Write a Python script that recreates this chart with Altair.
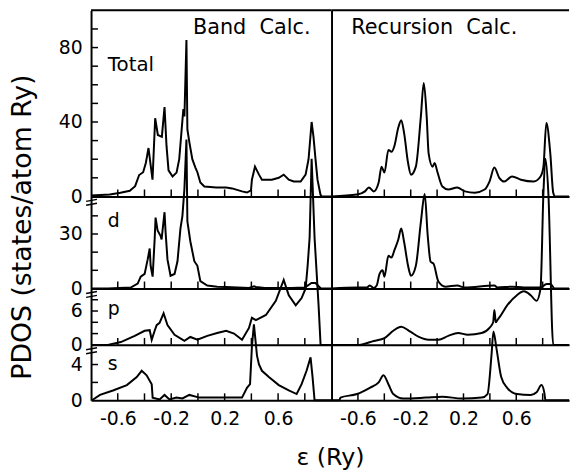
import altair as alt
import pandas as pd

FONT = "DejaVu Sans"

# ---------------- data (energy in Ry, PDOS in states/atom Ry) ----------------
band_total_e = [-0.80, -0.66, -0.58, -0.51, -0.47, -0.44, -0.41, -0.39, -0.37, -0.34, -0.32, -0.30, -0.27, -0.265,
                -0.25, -0.235, -0.22, -0.19, -0.16, -0.14, -0.116, -0.109, -0.101, -0.086, -0.079, -0.064, -0.042,
                -0.019, -0.004, 0.018, 0.048, 0.137, 0.211, 0.256, 0.33, 0.367, 0.397, 0.404, 0.427, 0.457, 0.479,
                0.553, 0.605, 0.642, 0.68, 0.717, 0.769, 0.806, 0.828, 0.851, 0.865, 0.88, 0.895, 0.917, 0.926, 1.0]
band_total_v = [0.5, 1.0, 2.0, 3.0, 5.5, 11.5, 13, 18, 26, 9, 42, 33, 32, 36, 48, 27, 14, 10.7, 12.8, 20, 41, 47, 43,
                84, 36, 29, 20, 15.5, 13, 7.5, 5.3, 4.8, 4.8, 4.3, 2.7, 2.1, 3.2, 9, 16, 11.7, 9, 9, 10, 11.7, 9, 8, 8,
                11.7, 20, 40, 32, 20, 9, 1, 0, 0]

band_d_e = [-0.80, -0.674, -0.503, -0.451, -0.428, -0.399, -0.376, -0.361, -0.354, -0.339, -0.324, -0.317, -0.302,
            -0.28, -0.272, -0.25, -0.242, -0.228, -0.205, -0.175, -0.153, -0.131, -0.116, -0.101, -0.086, -0.079,
            -0.057, -0.027, -0.004, 0.018, 0.07, 0.144, 0.211, 0.382, 0.42, 0.434, 0.5, 0.7, 0.8, 0.85, 0.88, 0.92, 1.0]
band_d_v = [0, 0, 0.5, 2.7, 6.5, 8, 16, 22, 12.5, 6.5, 27, 39, 32, 29, 27, 42, 31, 16, 7, 8, 15, 33, 40, 55, 82, 37,
            26, 15, 12.5, 4, 1.6, 1.0, 0.8, 0.3, 1.2, 0.8, 0.3, 0.2, 0.5, 3, 3, 0, 0]

band_p_e = [-0.80, -0.674, -0.577, -0.473, -0.399, -0.361, -0.346, -0.324, -0.309, -0.287, -0.257, -0.228, -0.175,
            -0.101, -0.057, -0.004, 0.07, 0.144, 0.211, 0.27, 0.33, 0.382, 0.404, 0.434, 0.509, 0.583, 0.642, 0.68,
            0.732, 0.776, 0.806, 0.821, 0.836, 0.851, 0.873, 0.903, 0.918, 1.0]
band_p_v = [0, 0, 0.5, 1.6, 2.5, 2.6, 0.9, 2.5, 3.5, 3.9, 5.6, 3.5, 1.8, 0.7, 1.4, 0.9, 1.6, 2.1, 2.5, 2.0, 0.9, 3.0,
            4.8, 4.4, 5.3, 7.8, 11.5, 8.8, 7.0, 8.3, 10, 14, 19, 33, 19, 7, 0, 0]

band_s_e = [-0.793, -0.733, -0.636, -0.532, -0.458, -0.421, -0.384, -0.346, -0.339, -0.287, -0.25, -0.213, -0.161,
            -0.116, -0.064, 0.01, 0.256, 0.33, 0.367, 0.39, 0.404, 0.419, 0.442, 0.457, 0.479, 0.531, 0.605, 0.68,
            0.739, 0.776, 0.813, 0.843, 0.858, 0.873, 1.0]
band_s_v = [0, 0.6, 1.1, 1.7, 2.6, 3.3, 2.8, 1.8, 0.3, 0.1, 0.6, 0.1, 0.3, 0.2, 0.6, 0.3, 0.3, 0.3, 1.4, 1.8, 6, 8.5,
            5, 4, 3.3, 2.6, 1.7, 1.1, 0.7, 1.8, 3.3, 4.8, 2.6, 0, 0]

rec_total_e = [-0.80, -0.607, -0.547, -0.517, -0.48, -0.443, -0.421, -0.399, -0.369, -0.346, -0.324, -0.294, -0.272,
               -0.25, -0.22, -0.198, -0.161, -0.123, -0.101, -0.079, -0.064, -0.034, -0.019, 0.003, 0.04, 0.085,
               0.152, 0.211, 0.286, 0.36, 0.397, 0.434, 0.471, 0.509, 0.568, 0.635, 0.732, 0.784, 0.806, 0.828,
               0.858, 0.88, 0.895, 1.0]
rec_total_v = [0, 1, 2.7, 4.8, 2.7, 7.5, 16, 12.8, 25, 24, 27, 37, 41, 34, 18, 11.7, 16, 43, 61, 43, 23, 16, 18, 13,
               5.3, 3.7, 4.8, 2.7, 2.0, 3.7, 8, 15.5, 10, 8, 10.7, 9, 8, 10.7, 16, 39.5, 23, 2, 0, 0]

rec_d_e = [-0.80, -0.607, -0.532, -0.51, -0.48, -0.458, -0.436, -0.413, -0.399, -0.369, -0.346, -0.324, -0.294,
           -0.272, -0.25, -0.22, -0.198, -0.161, -0.123, -0.094, -0.071, -0.049, -0.027, 0.01, 0.062, 0.152, 0.211,
           0.434, 0.457, 0.568, 0.657, 0.784, 0.83, 0.86, 0.89, 1.0]
rec_d_v = [0, 0.5, 0.5, 1.6, 0.2, 1.6, 8, 10, 6.5, 18, 17, 21, 27, 33, 25.6, 12.5, 7, 12.5, 36.5, 52, 29, 14.7, 13.6,
           3.8, 1.0, 1.6, 0.5, 1.6, 0.5, 1.0, 0.5, 0.5, 2.5, 2.5, 0, 0]

rec_p_e = [-0.80, -0.592, -0.48, -0.399, -0.332, -0.272, -0.213, -0.138, -0.064, 0.01, 0.085, 0.159, 0.233, 0.338,
           0.397, 0.425, 0.434, 0.445, 0.46, 0.479, 0.531, 0.605, 0.657, 0.709, 0.754, 0.784, 0.806, 0.821, 0.843,
           0.88, 1.0]
rec_p_v = [0, 0, 0.7, 1.2, 2.5, 3.2, 2.5, 1.4, 0.9, 0.9, 1.6, 2.1, 1.8, 2.1, 3.0, 4.0, 6.2, 4.0, 4.5, 5.1, 7.0, 8.8,
           9.5, 8.8, 7.8, 10, 27, 33, 27, 0, 0]

rec_s_e = [-0.80, -0.741, -0.733, -0.607, -0.51, -0.443, -0.406, -0.369, -0.332, -0.257, -0.086, 0.04, 0.189, 0.338,
           0.382, 0.412, 0.427, 0.449, 0.486, 0.531, 0.605, 0.709, 0.754, 0.791, 0.813, 0.821, 1.0]
rec_s_v = [0, 0, 0.3, 0.7, 1.4, 2.0, 2.8, 1.8, 0.7, 0.2, 0.3, 0.4, 0.2, 0.3, 0.7, 5, 7.7, 5.9, 2.6, 1.4, 0.7, 0.6,
           0.9, 1.7, 0.8, 0, 0]

x_tick_values = [-0.6, -0.4, -0.2, 0.0, 0.2, 0.4, 0.6, 0.8]
x_label_values = [-0.6, -0.2, 0.2, 0.6]
x_domain = [-0.8, 1.0]

rows = [
    {"name": "Total", "h": 188, "dom": [0, 100], "yticks": [10, 20, 30, 40, 50, 60, 70, 80, 90],
     "ylabels": [0, 40, 80], "band": (band_total_e, band_total_v), "rec": (rec_total_e, rec_total_v),
     "lab_y": 61, "lab_size": 20},
    {"name": "d", "h": 93, "dom": [0, 50.7], "yticks": [10, 20, 30, 40],
     "ylabels": [0, 30], "band": (band_d_e, band_d_v), "rec": (rec_d_e, rec_d_v), "lab_y": 31, "lab_size": 19},
    {"name": "p", "h": 57, "dom": [0, 10], "yticks": [2, 4, 6, 8],
     "ylabels": [0, 6], "band": (band_p_e, band_p_v), "rec": (rec_p_e, rec_p_v), "lab_y": 27, "lab_size": 19},
    {"name": "s", "h": 56, "dom": [0, 6.2], "yticks": [2, 4],
     "ylabels": [0, 4], "band": (band_s_e, band_s_v), "rec": (rec_s_e, rec_s_v), "lab_y": 25, "lab_size": 19},
]

W_LEFT, W_RIGHT = 243, 240
one = pd.DataFrame({"a": [0]})


def panel(row, side, bottom):
    w = W_LEFT if side == "left" else W_RIGHT
    h = row["h"]
    e, v = row["band"] if side == "left" else row["rec"]
    assert len(e) == len(v)
    df = pd.DataFrame({"e": e, "v": v})
    xs = alt.Scale(domain=x_domain, nice=False, zero=False)
    ys = alt.Scale(domain=row["dom"], nice=False, zero=False)
    if bottom:
        xa = alt.Axis(values=x_label_values, ticks=False, domain=True, domainColor="black", domainWidth=2,
                      labelFont=FONT, labelFontSize=19, labelColor="black", labelPadding=9, grid=False, title=None,
                      labelExpr="datum.value < 0 ? '-' + format(-datum.value, '.1f') : format(datum.value, '.1f')")
    else:
        xa = alt.Axis(labels=False, ticks=False, domain=True, domainColor="black", domainWidth=2, grid=False,
                      title=None)
    if side == "left":
        ya = alt.Axis(values=row["ylabels"], ticks=False, domain=True, domainColor="black", domainWidth=2,
                      labelFont=FONT, labelFontSize=19, labelColor="black", labelPadding=9, grid=False,
                      title=None, format="d")
    else:
        ya = alt.Axis(labels=False, ticks=False, domain=True, domainColor="black", domainWidth=2, grid=False,
                      title=None)

    interp = "linear" if side == "left" else "monotone"
    line = alt.Chart(df).mark_line(color="black", strokeWidth=2, clip=False, interpolate=interp).encode(
        x=alt.X("e:Q", scale=xs, axis=xa), y=alt.Y("v:Q", scale=ys, axis=ya))

    xt = alt.Chart(pd.DataFrame({"e": x_tick_values})).mark_rule(color="black", strokeWidth=1.5).encode(
        x=alt.X("e:Q", scale=xs, axis=xa), y=alt.value(h), y2=alt.value(h - 7))
    layers = [line, xt]

    if side == "left":
        yt = alt.Chart(pd.DataFrame({"v": row["yticks"]})).mark_rule(color="black", strokeWidth=1.5).encode(
            y=alt.Y("v:Q", scale=ys, axis=ya), x=alt.value(0), x2=alt.value(7))
        layers.append(yt)
        lab = alt.Chart(one).mark_text(font=FONT, fontSize=row["lab_size"], color="black", align="left",
                                       baseline="alphabetic").encode(
            x=alt.value(17), y=alt.value(row["lab_y"]), text=alt.value(row["name"]))
        layers.append(lab)
        if row["name"] != "Total":
            for yy in (4, 8):
                layers.append(alt.Chart(one).mark_rule(color="black", strokeWidth=1.5).encode(
                    x=alt.value(-5), x2=alt.value(6), y=alt.value(yy + 1), y2=alt.value(yy - 1)))

    if row["name"] == "Total":
        layers.append(alt.Chart(one).mark_rule(color="black", strokeWidth=2).encode(
            x=alt.value(0), x2=alt.value(w), y=alt.value(0)))
        title_txt = "Band\u00a0\u00a0Calc." if side == "left" else "Recursion\u00a0\u00a0Calc."
        tx = 103 if side == "left" else 20
        layers.append(alt.Chart(one).mark_text(font=FONT, fontSize=21, color="black", align="left",
                                               baseline="alphabetic").encode(
            x=alt.value(tx), y=alt.value(24), text=alt.value(title_txt)))

    if side == "left" and row["name"] == "d":
        layers.append(alt.Chart(one).mark_text(font=FONT, fontSize=27, color="black", align="center",
                                               baseline="middle", angle=270).encode(
            x=alt.value(-69), y=alt.value(31), text=alt.value("PDOS (states/atom Ry)")))

    if side == "left" and bottom:
        layers.append(alt.Chart(one).mark_text(font=FONT, fontSize=24, color="black", align="center",
                                               baseline="alphabetic").encode(
            x=alt.value(242), y=alt.value(121), text=alt.value("\u03b5 (Ry)")))

    return alt.layer(*layers).properties(width=w, height=h)


cells = []
for i, r in enumerate(rows):
    bottom = i == len(rows) - 1
    cells.append(panel(r, "left", bottom))
    cells.append(panel(r, "right", bottom))

chart = alt.concat(*cells, columns=2, spacing=0, bounds="flush").properties(
    padding={"left": 8, "top": 6, "right": 0, "bottom": 0}
).configure_view(stroke="transparent").configure_axis(grid=False)

chart.save("out.html", embed_options={"renderer": "svg", "actions": False})
